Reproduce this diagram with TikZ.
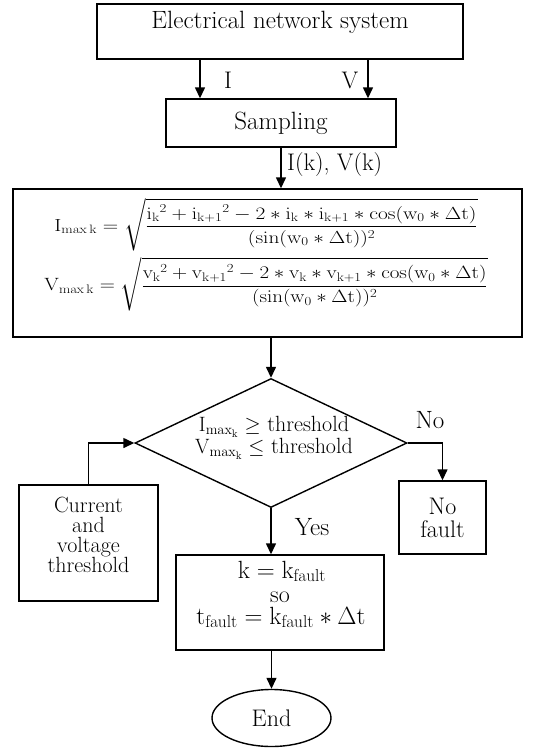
\documentclass[tikz,border=0pt]{standalone}
\usepackage{amsmath}
\usepackage{graphicx}
\usetikzlibrary{shapes.geometric,arrows.meta}
\begin{document}
\begin{tikzpicture}[x=1pt,y=-1pt,
  every node/.style={font=\fontsize{24}{26}\selectfont},
  box/.style={draw,line width=1.4pt,inner sep=0pt},
  arr/.style={line width=1.4pt,-{Triangle[width=10pt,length=11pt]}},
  plain/.style={inner sep=0pt}]
\useasboundingbox (0,0) rectangle (545,748);
% boxes
\node[box,minimum width=366pt,minimum height=55pt] (sys) at (280,31.5) {};
\node[plain,font=\fontsize{25}{26}\selectfont] (systxt) at (280,22) {Electrical network system};
\node[box,minimum width=230pt,minimum height=48pt,font=\fontsize{25}{26}\selectfont] (samp) at (281,123) {Sampling};
\node[box,minimum width=509pt,minimum height=148pt] (form) at (267.5,263) {};
\node[plain] (f1) at (266,225)
  {\resizebox*{423pt}{53pt}{$\mathrm{I}_{\mathrm{max\,k}}=\sqrt{\dfrac{\mathrm{i_k}^{2}+\mathrm{i_{k+1}}^{2}-2*\mathrm{i_k}*\mathrm{i_{k+1}}*\cos(\mathrm{w_0}*\Delta\mathrm{t})}{(\sin(\mathrm{w_0}*\Delta\mathrm{t}))^{2}}}$}};
\node[plain] (f2) at (266,284.5)
  {\resizebox*{443pt}{54pt}{$\mathrm{V}_{\mathrm{max\,k}}=\sqrt{\dfrac{\mathrm{v_k}^{2}+\mathrm{v_{k+1}}^{2}-2*\mathrm{v_k}*\mathrm{v_{k+1}}*\cos(\mathrm{w_0}*\Delta\mathrm{t})}{(\sin(\mathrm{w_0}*\Delta\mathrm{t}))^{2}}}$}};
\node[draw,diamond,line width=1.4pt,minimum width=272pt,minimum height=129pt,inner sep=0pt] (dia) at (271,443) {};
\node[plain,align=center,font=\fontsize{22}{21}\selectfont] (diatxt) at (274,438)
  {$\mathrm{I}_{\mathrm{max}_\mathrm{k}}\geq$ threshold\\ $\mathrm{V}_{\mathrm{max}_\mathrm{k}}\leq$ threshold};
\node[box,minimum width=87pt,minimum height=73pt,align=center,font=\fontsize{24}{23}\selectfont] (nof) at (442.5,517.5) {No\\fault};
\node[box,minimum width=139pt,minimum height=116pt] (thr) at (88.5,543) {};
\node[plain,align=center,font=\fontsize{22}{20}\selectfont] (thrtxt) at (88.5,535) {Current\\and\\voltage\\threshold};
\node[box,minimum width=208pt,minimum height=95pt] (kb) at (280,602.5) {};
\node[plain,anchor=base,font=\fontsize{24}{24}\selectfont] (k1) at (282,578) {$\mathrm{k}=\mathrm{k}_{\mathrm{fault}}$};
\node[plain,anchor=base,font=\fontsize{24}{24}\selectfont] (k2) at (280,602) {so};
\node[plain,anchor=base,font=\fontsize{24}{24}\selectfont] (k3) at (281,624) {$\mathrm{t}_{\mathrm{fault}}=\mathrm{k}_{\mathrm{fault}}*\Delta\mathrm{t}$};
\node[draw,ellipse,line width=1.4pt,minimum width=119pt,minimum height=57pt,inner sep=0pt] (end) at (271.5,718) {End};
% labels
\node[plain] (lI) at (228,80) {I};
\node[plain] (lV) at (350,80) {V};
\node[plain,anchor=west] (lk) at (287,165) {I(k), V(k)};
\node[plain,font=\fontsize{25}{26}\selectfont] (lno) at (430,420) {No};
\node[plain,font=\fontsize{25}{26}\selectfont] (lyes) at (312,527) {Yes};
% connectors
\coordinate (cI) at (200,0);
\coordinate (cV) at (368,0);
\draw[arr] (sys.south -| cI) -- (samp.north -| cI);
\draw[arr] (sys.south -| cV) -- (samp.north -| cV);
\draw[arr] (samp.south) -- (form.north -| samp.south);
\draw[arr] (form.south -| dia.north) -- (dia.north);
\draw[arr] (dia.east) -| (nof.north);
\draw[arr] (thr.north) |- (dia.west);
\draw[arr] (dia.south) -- (dia.south |- kb.north);
\draw[arr] (kb.south -| end.north) -- (end.north);
\end{tikzpicture}
\end{document}
